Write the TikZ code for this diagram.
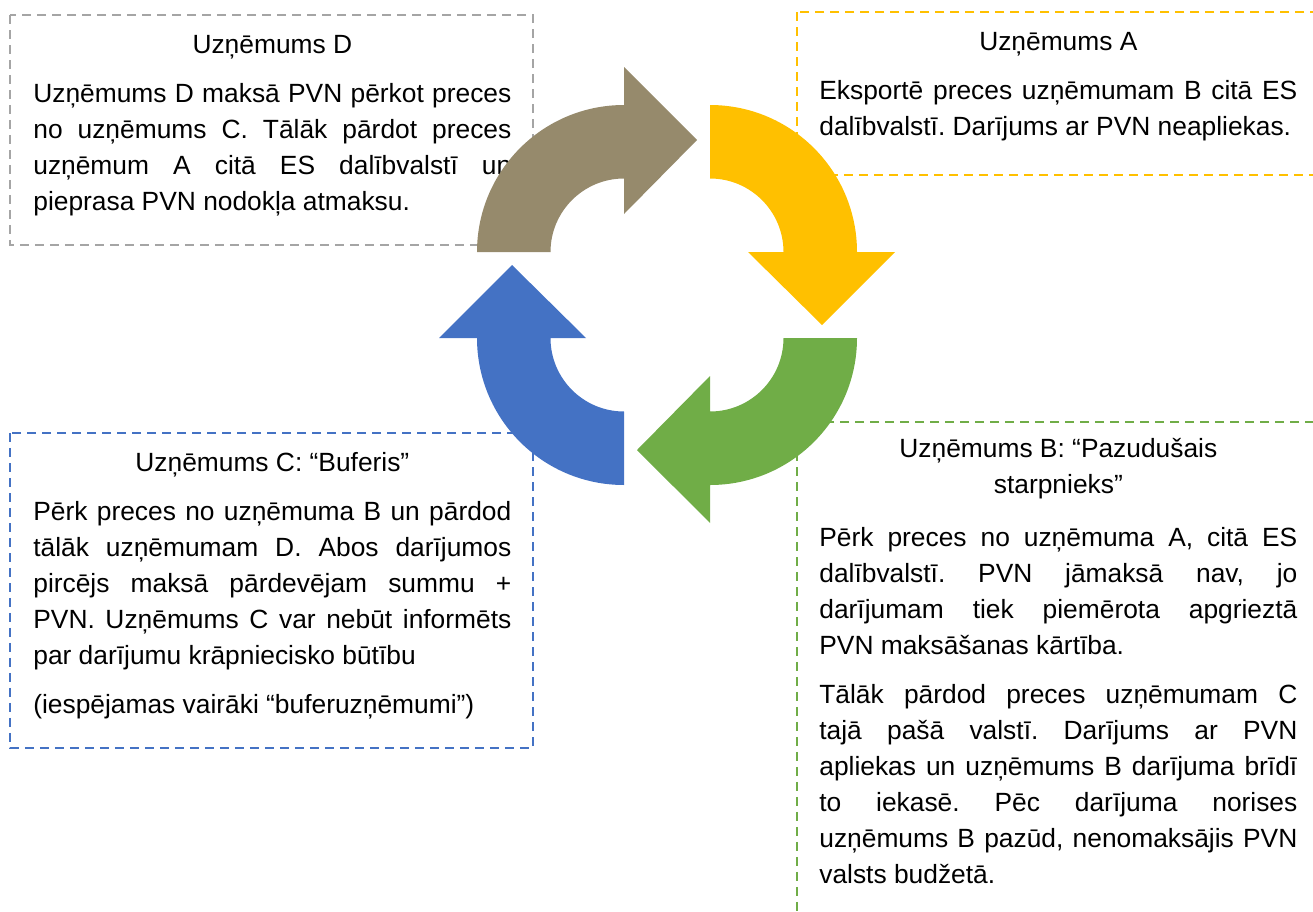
\documentclass[tikz,border=0pt]{standalone}
\usepackage{fontspec}
\setmainfont{Liberation Sans}
\setlength{\parindent}{0pt}
\frenchspacing

\definecolor{firmD}{HTML}{A5A5A5}
\definecolor{firmA}{HTML}{FFC000}
\definecolor{firmB}{HTML}{70AD47}
\definecolor{firmC}{HTML}{4472C4}
\definecolor{khaki}{HTML}{968A6C}

\tikzset{
  firmbox/.style={draw=#1, line width=0.04cm, dash pattern=on 0.18cm off 0.12cm},
  card/.style={anchor=north west, inner sep=0pt, text width=9.56cm, align=justify,
    font=\fontsize{15pt}{20.5pt}\selectfont,
    execute at begin node={\setlength{\parskip}{0.26cm}}},
}

\begin{document}
\begin{tikzpicture}
    \useasboundingbox (0,0) rectangle (26.26,-18.24);
    \clip (0,0) rectangle (26.26,-18.24);

    % dashed frames round the four companies
    \draw[firmbox=firmD] (0.2,-0.3) rectangle (10.66,-4.9);
    \draw[firmbox=firmA] (15.94,-0.24) rectangle (26.6,-3.5);
    \draw[firmbox=firmC] (0.2,-8.66) rectangle (10.66,-14.96);
    \draw[firmbox=firmB] (15.94,-8.44) rectangle (26.6,-19);

    \node[card] (txtD) at (0.66,-0.556) {{\centering\strut Uzņēmums D\par}
        Uzņēmums D maksā PVN pērkot preces\linebreak no uzņēmums C. Tālāk pārdot preces\linebreak uzņēmum A citā ES dalībvalstī un\linebreak pieprasa PVN nodokļa atmaksu.};
    \node[card] (txtA) at (16.38,-0.5) {{\centering\strut Uzņēmums A\par}
        Eksportē preces uzņēmumam B citā ES\linebreak dalībvalstī. Darījums ar PVN neapliekas.};
    \node[card] (txtC) at (0.66,-8.916) {{\centering\strut Uzņēmums C: “Buferis”\par}
        Pērk preces no uzņēmuma B un pārdod\linebreak tālāk uzņēmumam D. Abos darījumos\linebreak pircējs maksā pārdevējam summu +\linebreak PVN. Uzņēmums C var nebūt informēts\linebreak par darījumu krāpniecisko būtību\par
        (iespējamas vairāki “buferuzņēmumi”)};
    \node[card] (txtB) at (16.38,-8.636) {{\centering\strut Uzņēmums B: “Pazudušais\linebreak starpnieks”\par}
        \vspace{0.08cm}
        Pērk preces no uzņēmuma A, citā ES\linebreak dalībvalstī. PVN jāmaksā nav, jo\linebreak darījumam tiek piemērota apgrieztā\linebreak PVN maksāšanas kārtība.\par
        Tālāk pārdod preces uzņēmumam C\linebreak tajā pašā valstī. Darījums ar PVN\linebreak apliekas un uzņēmums B darījuma brīdī\linebreak to iekasē. Pēc darījuma norises\linebreak uzņēmums B pazūd, nenomaksājis PVN\linebreak valsts budžetā.};

    % the four curved arrows of the cycle
    \coordinate (hub) at (13.34,-5.9);
    \foreach \col/\ang in {khaki/0, firmA/-90, firmB/-180, firmC/90}
        \fill[\col, shift={(hub)}, rotate=\ang, shift={(-0.86,0.86)}]
            (-2.94,0) arc[start angle=180, end angle=90, radius=2.94]
            -- (0,3.7) -- (1.46,2.24) -- (0,0.76) -- (0,1.47)
            arc[start angle=90, end angle=180, radius=1.47] -- cycle;
\end{tikzpicture}
\end{document}
